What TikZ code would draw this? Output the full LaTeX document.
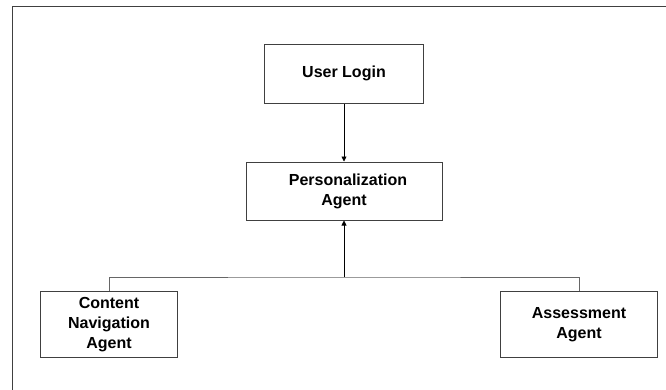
\documentclass[tikz,border=0pt]{standalone}
\usepackage{fontspec}
\setmainfont{Liberation Sans}
\usetikzlibrary{arrows.meta}
\begin{document}
\begin{tikzpicture}[x=1pt, y=-1pt,
      box/.style={rectangle, draw=black!75, line width=1pt,
                  align=center, inner sep=2pt,
                  font=\fontsize{16}{20}\selectfont\bfseries},
      link/.style={draw=black!60, line width=1pt},
      arr/.style={-{Triangle[length=5pt, width=5pt]}, line width=0.8pt},
    ]
    \useasboundingbox (0,0) rectangle (666,389);

    % Frame (cut off at right and bottom)
    \draw[black!75, line width=1pt] (12.5,400) |- (680,6);

    % Top: login
    \node[box, minimum width=159pt, minimum height=59pt] (login) at (344,73.5)
      {User Login};

    % Middle: personalization
    \node[box, minimum width=196pt, minimum height=58pt] (pers) at (344,191)
      {\hspace*{8pt}Personalization\\Agent};

    % Bottom row: agents
    \node[box, minimum width=137pt, minimum height=66pt] (content) at (109,324.7)
      {Content\\Navigation\\Agent};
    \node[box, minimum width=157pt, minimum height=66pt] (assess) at (579,324.7)
      {Assessment\\Agent};

    % Arrows
    \draw[arr] (login) -- (pers);
    \coordinate (junc) at (344,277);
    \draw[link] (content.north) |- (junc) -| (assess.north);
    \draw[arr] (junc) -- (pers.south);

\end{tikzpicture}
\end{document}
